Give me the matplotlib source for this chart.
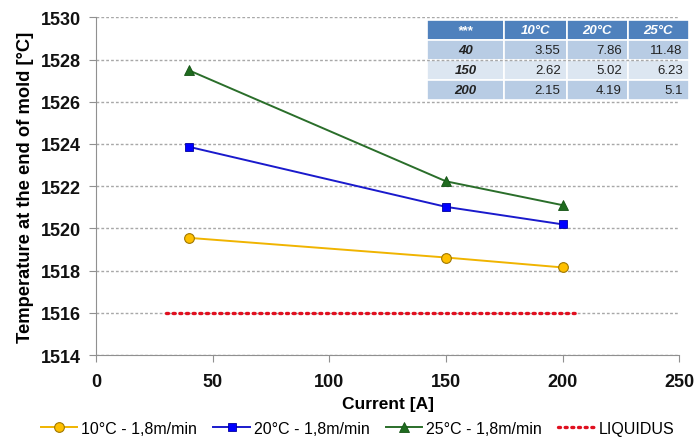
import matplotlib.pyplot as plt

plt.rcParams['font.family'] = ['Liberation Sans', 'DejaVu Sans']

# data
current = [40, 150, 200]
t_10 = [1519.55, 1518.62, 1518.15]
t_20 = [1523.86, 1521.02, 1520.19]
t_25 = [1527.48, 1522.23, 1521.10]
liquidus_x = [30, 206]
liquidus_y = [1516, 1516]

# small table of superheat values
table_cols = ['***', '10°C', '20°C', '25°C']
table_rows = ['40', '150', '200']
table_vals = [['3.55', '7.86', '11.48'],
              ['2.62', '5.02', '6.23'],
              ['2.15', '4.19', '5.1']]

fig = plt.figure(figsize=(6.97, 4.39), dpi=100)
ax = fig.add_axes([0.1377, 0.189, 0.8369, 0.7693])

ax.plot(current, t_10, color='#F0B400', lw=1.4, marker='o', ms=7,
        mfc='#FFC000', mec='#A07800', mew=0.8, label='10°C - 1,8m/min')
ax.plot(current, t_20, color='#1A1ACC', lw=1.4, marker='s', ms=6,
        mfc='#0000FF', mec='#0000A0', mew=0.6, label='20°C - 1,8m/min')
ax.plot(current, t_25, color='#2A6E2A', lw=1.4, marker='^', ms=7.5,
        mfc='#1F6B1F', mec='#145214', mew=0.6, label='25°C - 1,8m/min')
ax.plot(liquidus_x, liquidus_y, color='#E01020', lw=2.4,
        linestyle=(0, (0.6, 1.4)), dash_capstyle='round', label='LIQUIDUS')

ax.set_xlim(0, 250)
ax.set_ylim(1514, 1530)
ax.set_xticks(range(0, 251, 50))
ax.set_yticks(range(1514, 1531, 2))
ax.yaxis.grid(True, color='#A8A8A8', linestyle=(0, (2, 1.5)), lw=1)
ax.set_axisbelow(True)
for s in ['top', 'right']:
    ax.spines[s].set_visible(False)
for s in ['left', 'bottom']:
    ax.spines[s].set_color('#909090')
ax.tick_params(colors='#909090', length=5, labelcolor='#111111',
               labelsize=13)
ax.tick_params(axis='x', pad=8)
ax.tick_params(axis='y', pad=6)
for lab in ax.get_xticklabels() + ax.get_yticklabels():
    lab.set_fontweight('bold')

ax.set_xlabel('Current [A]', fontsize=12.5, fontweight='bold', labelpad=4)
ax.set_ylabel('Temperature at the end of mold [°C]', fontsize=13.2,
              fontweight='bold', labelpad=5)

cells = [[r] + v for r, v in zip(table_rows, table_vals)]
tab = ax.table(cellText=cells, colLabels=table_cols,
               bbox=[0.5675, 0.755, 0.449, 0.237],
               colWidths=[77, 63, 61, 61], cellLoc='right')
tab.auto_set_font_size(False)
tab.set_fontsize(9.5)
row_colors = ['#B8CCE4', '#DCE6F1', '#B8CCE4']
for (r, c), cell in tab.get_celld().items():
    cell.set_edgecolor('white')
    cell.set_linewidth(1.2)
    cell.set_clip_on(False)
    txt = cell.get_text()
    if r == 0:
        cell.set_facecolor('#4F81BD')
        txt.set_color('white')
        txt.set_fontweight('bold')
        txt.set_fontstyle('italic')
        txt.set_horizontalalignment('center')
    else:
        cell.set_facecolor(row_colors[r - 1])
        txt.set_color('#222222')
        if c == 0:
            txt.set_fontweight('bold')
            txt.set_fontstyle('italic')
            txt.set_horizontalalignment('center')

fig.legend(loc='center', bbox_to_anchor=(0.513, 0.022), ncol=4,
           frameon=False, fontsize=11.5, handlelength=2.3,
           columnspacing=1.0, handletextpad=0.25)

fig.savefig('out.png', dpi=100)
